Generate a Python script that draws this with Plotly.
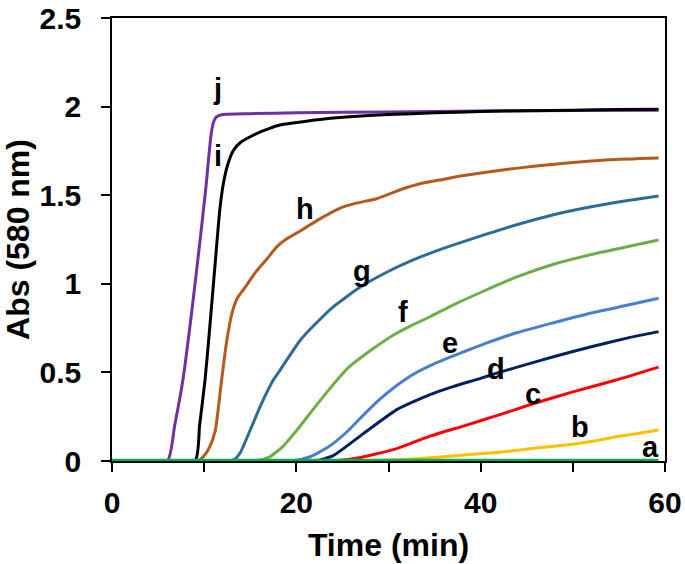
import plotly.graph_objects as go

# Abs (580 nm) vs time, curves a..j
j_t = [0, 6.0, 6.8, 7.7, 8.6, 9.5, 10.2, 10.7, 11.0, 11.3, 12.0, 15, 20, 30, 40, 50, 59.3]
j_a = [0, 0, 0.2, 0.46, 0.82, 1.22, 1.55, 1.82, 1.91, 1.94, 1.955, 1.96, 1.965, 1.97, 1.975, 1.978, 1.98]

i_t = [0, 9.0, 9.5, 10.1, 10.6, 11.2, 11.7, 12.1, 12.6, 13.2, 14.0, 15.0, 16.0, 17.1, 18.2, 20, 22,
       25.8, 30, 35, 40, 45, 50, 55, 59.3]
i_a = [0, 0, 0.2, 0.46, 0.75, 1.12, 1.42, 1.57, 1.68, 1.755, 1.80, 1.83, 1.855, 1.877, 1.896, 1.91, 1.925,
       1.943, 1.955, 1.965, 1.972, 1.977, 1.98, 1.983, 1.985]

h_t = [0, 9.3, 10.0, 10.6, 11.2, 11.9, 12.4, 13.0, 13.6, 14.3, 15.5, 16.8, 17.9, 19.0, 20.0, 21.1, 22.5,
       24.7, 26.5, 28.7, 31.5, 33.4, 36, 38, 42, 46, 50, 54, 59.3]
h_a = [0, 0, 0.03, 0.08, 0.17, 0.46, 0.66, 0.83, 0.92, 0.97, 1.06, 1.14, 1.21, 1.255, 1.285, 1.32, 1.365,
       1.426, 1.455, 1.48, 1.535, 1.565, 1.59, 1.61, 1.64, 1.665, 1.685, 1.70, 1.71]

g_t = [0, 12.5, 13.3, 13.9, 15.0, 16.1, 17.5, 18.2, 20.4, 22, 24.0, 26.9, 29.8, 33.4, 36.5, 40.6, 44,
       47.9, 52, 56, 59.3]
g_a = [0, 0, 0.01, 0.045, 0.175, 0.31, 0.457, 0.51, 0.68, 0.77, 0.87, 0.98, 1.065, 1.15, 1.21, 1.28, 1.335,
       1.39, 1.435, 1.47, 1.495]

f_t = [0, 15.5, 17, 18.5, 20, 21.8, 23.5, 25.5, 28.5, 30.5, 32.3, 34.5, 37, 40.6, 44, 47.9, 52, 56, 59.3]
f_a = [0, 0, 0.02, 0.08, 0.17, 0.29, 0.40, 0.52, 0.64, 0.71, 0.76, 0.814, 0.88, 0.965, 1.04, 1.11, 1.165,
       1.21, 1.247]

e_t = [0, 19.5, 21.5, 23.5, 25.5, 27.3, 29.1, 31.0, 32.7, 35, 38.1, 40.6, 44, 47.9, 52, 56, 59.3]
e_a = [0, 0, 0.024, 0.08, 0.165, 0.26, 0.35, 0.43, 0.49, 0.55, 0.615, 0.665, 0.725, 0.78, 0.835, 0.88, 0.918]

d_t = [0, 22, 24, 27.3, 30.9, 34.5, 37, 39.9, 42, 45, 48, 52, 56, 59.3]
d_a = [0, 0, 0.03, 0.156, 0.29, 0.375, 0.42, 0.465, 0.50, 0.545, 0.59, 0.645, 0.695, 0.73]

c_t = [0, 24, 27, 30.9, 34.5, 38.3, 42, 45.5, 50, 54.7, 59.3]
c_a = [0, 0, 0.02, 0.07, 0.14, 0.2, 0.26, 0.32, 0.39, 0.457, 0.53]

b_t = [0, 25, 30, 34.9, 38.5, 42.1, 45.5, 49.3, 52, 54.7, 57, 59.3]
b_a = [0, 0, 0.005, 0.02, 0.035, 0.05, 0.07, 0.09, 0.11, 0.137, 0.155, 0.175]

a_t = [0, 59.3]
a_a = [0, 0]

curves = [
    ("j", j_t, j_a, "#7030A0", 3),
    ("i", i_t, i_a, "#000000", 3),
    ("h", h_t, h_a, "#B35A1F", 3),
    ("g", g_t, g_a, "#2E6C97", 3),
    ("f", f_t, f_a, "#70AD47", 3),
    ("e", e_t, e_a, "#4A7FCB", 3),
    ("d", d_t, d_a, "#002060", 3),
    ("c", c_t, c_a, "#FF0000", 3),
    ("b", b_t, b_a, "#FFC000", 3),
    ("a", a_t, a_a, "#00B050", 4.5),
]

# label positions (time, abs)
lab_names = ["j", "i", "h", "g", "f", "e", "d", "c", "b", "a"]
lab_t = [11.5, 11.5, 20.9, 27.1, 31.6, 36.7, 41.7, 45.7, 50.8, 58.4]
lab_a = [2.10, 1.72, 1.42, 1.07, 0.84, 0.664, 0.52, 0.38, 0.194, 0.08]

FONT = "Arial, Liberation Sans, sans-serif"

fig = go.Figure()
for name, t, a, col, w in curves:
    fig.add_trace(go.Scatter(x=t, y=a, mode="lines", name=name,
                             line=dict(color=col, width=w, shape="spline", smoothing=0.5),
                             showlegend=False))

for n, t, a in zip(lab_names, lab_t, lab_a):
    fig.add_annotation(x=t, y=a, text=n, showarrow=False,
                       font=dict(family=FONT, size=29, color="black", weight="bold"))

fig.update_xaxes(range=[0, 60], tickvals=[0, 10, 20, 30, 40, 50, 60],
                 ticktext=["0", "", "20", "", "40", "", "60"],
                 ticks="outside", ticklen=9, tickwidth=1.5, tickcolor="black",
                 showline=True, linecolor="black", linewidth=1.5, mirror=True,
                 showgrid=False, zeroline=False, ticklabelstandoff=5, automargin=False,
                 tickfont=dict(family=FONT, size=30, color="black", weight="bold"),
                 title=dict(text="Time (min)", standoff=16,
                            font=dict(family=FONT, size=32, color="black", weight="bold")))
fig.update_yaxes(range=[0, 2.5], tickvals=[0, 0.5, 1, 1.5, 2, 2.5],
                 ticktext=["0", "0.5", "1", "1.5", "2", "2.5"],
                 ticks="outside", ticklen=9, tickwidth=1.5, tickcolor="black",
                 showline=True, linecolor="black", linewidth=1.5, mirror=True,
                 showgrid=False, zeroline=False, ticklabelstandoff=14, automargin=False,
                 tickfont=dict(family=FONT, size=30, color="black", weight="bold"),
                 title=dict(text="Abs (580 nm)", standoff=8,
                            font=dict(family=FONT, size=32, color="black", weight="bold")))

fig.update_layout(width=685, height=564, margin=dict(l=112, r=20, t=18, b=103),
                  plot_bgcolor="white", paper_bgcolor="white")

# drop the default page margin so the figure sits at the window corner
fig.write_html("out.html", config={"displayModeBar": False},
               post_script="document.body.style.margin='0';")
